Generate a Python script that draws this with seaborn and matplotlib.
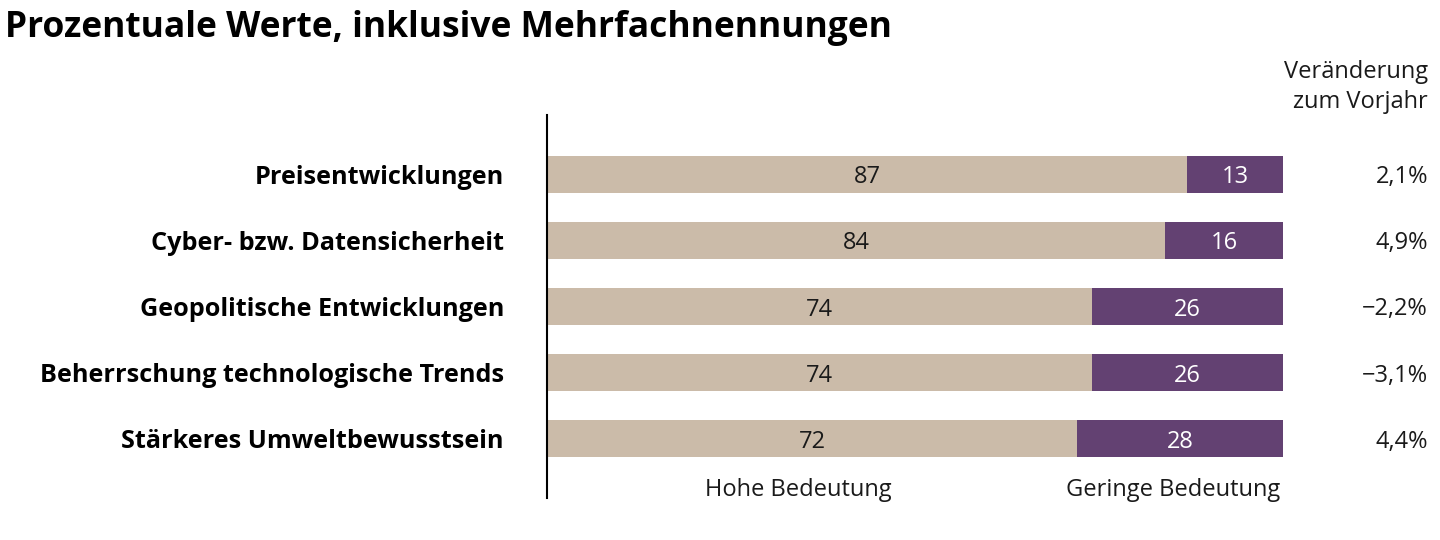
import matplotlib
matplotlib.use("Agg")
import matplotlib.pyplot as plt
import matplotlib.transforms as mtransforms
import seaborn as sns
import pandas as pd

categories = ["Preisentwicklungen", "Cyber- bzw. Datensicherheit", "Geopolitische Entwicklungen",
              "Beherrschung technologische Trends", "Stärkeres Umweltbewusstsein"]
hohe = [87, 84, 74, 74, 72]
geringe = [13, 16, 26, 26, 28]
veraenderung = ["2,1%", "4,9%", "\u22122,2%", "\u22123,1%", "4,4%"]

sns.set_theme(style="white")
plt.rcParams['font.family'] = ['Open Sans', 'DejaVu Sans']

beige = "#CBBBA9"
purple = "#634172"
textc = "#1a1a1a"

df = pd.DataFrame({"cat": categories, "hohe": hohe, "geringe": geringe})
df["total"] = df["hohe"] + df["geringe"]

fig = plt.figure(figsize=(14.4, 5.4), dpi=100)
ax = fig.add_axes([547/1440, 1-498/540, (1283-547)/1440, (498-115)/540])

sns.barplot(data=df, x="total", y="cat", color=purple, width=0.55, ax=ax, saturation=1,
            orient="h", linewidth=0)
sns.barplot(data=df, x="hohe", y="cat", color=beige, width=0.55, ax=ax, saturation=1,
            orient="h", linewidth=0)

ax.set_xlim(0, 100)
ax.set_ylim(4.9, -0.9)
ax.set_xlabel("")
ax.set_ylabel("")
ax.set_xticks([])
for s in ["top", "right", "bottom"]:
    ax.spines[s].set_visible(False)
ax.spines["left"].set_color("black")
ax.spines["left"].set_linewidth(1.5)
ax.tick_params(axis="y", length=0, pad=31)
ax.set_yticks(range(len(categories)))
ax.set_yticklabels(categories, fontsize=18.2, fontweight="bold", color="black")

trans = mtransforms.blended_transform_factory(fig.transFigure, ax.transData)
for i, (h, g, v) in enumerate(zip(hohe, geringe, veraenderung)):
    ax.text(h/2, i, str(h), ha="center", va="center_baseline", fontsize=17, color=textc)
    ax.text(h + g/2, i, str(g), ha="center", va="center_baseline", fontsize=17, color="white")
    ax.text(1428/1440, i, v, transform=trans, ha="right", va="center_baseline", fontsize=17, color=textc)

ax.text(34.1, 4.74, "Hohe Bedeutung", ha="center", va="center_baseline", fontsize=17, color=textc)
ax.text(99.6, 4.74, "Geringe Bedeutung", ha="right", va="center_baseline", fontsize=17, color=textc)

fig.text(5/1440, 1-28/540, "Prozentuale Werte, inklusive Mehrfachnennungen", ha="left", va="center",
         fontsize=25.5, fontweight="bold", color="black")
fig.text(1428/1440, 1-72/540, "Veränderung", ha="right", va="center", fontsize=17, color=textc)
fig.text(1428/1440, 1-102/540, "zum Vorjahr", ha="right", va="center", fontsize=17, color=textc)

fig.savefig("out.png", dpi=100)
